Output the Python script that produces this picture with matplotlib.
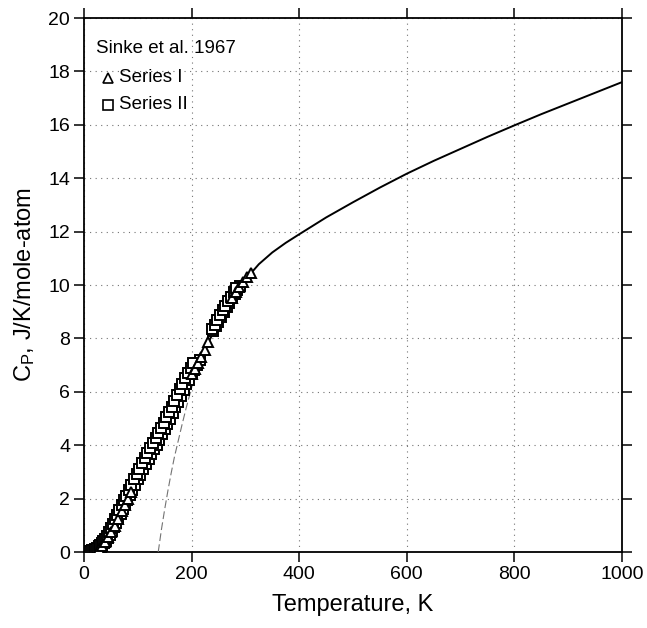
import matplotlib
matplotlib.use("Agg")
import matplotlib.pyplot as plt

# Fonts
plt.rcParams['font.family'] = ['Liberation Sans', 'DejaVu Sans']
plt.rcParams['mathtext.fontset'] = 'custom'
plt.rcParams['mathtext.rm'] = 'Liberation Sans'
plt.rcParams['mathtext.it'] = 'Liberation Sans'

# Data: Sinke et al. 1967, Series II (squares)
t_series2 = [10, 13, 16, 19, 22, 25, 28, 31, 34, 37, 40, 44, 48, 52, 56, 60, 64, 68,
             72, 76, 80, 85, 90, 95, 100, 105, 110, 115, 120, 125, 130, 135, 140, 145,
             150, 155, 160, 165, 170, 175, 180, 185, 190, 195, 200, 205, 210, 215,
             240, 245, 250, 255, 260, 265, 270, 275, 280, 285, 290,
             # second run
             12, 15, 18, 21, 24, 27, 30, 33, 36, 39, 42, 46, 50, 54, 58, 62, 66,
             70, 74, 78, 83, 88, 93, 98, 103, 108, 113, 118, 123, 128, 133, 138,
             143, 148, 153, 158, 163, 168, 173, 178, 183, 188, 193, 198, 203,
             238, 243, 248, 253, 258, 263, 268, 273, 278, 283]
cp_series2 = [0.01, 0.02, 0.03, 0.05, 0.07, 0.10, 0.14, 0.19, 0.25, 0.32, 0.40, 0.52,
              0.65, 0.79, 0.94, 1.10, 1.27, 1.44, 1.60, 1.78, 1.95, 2.15, 2.33, 2.52,
              2.72, 2.90, 3.10, 3.30, 3.50, 3.68, 3.86, 4.02, 4.21, 4.41, 4.60, 4.80,
              5.00, 5.20, 5.42, 5.63, 5.85, 6.06, 6.28, 6.46, 6.65, 6.82, 7.00, 7.20,
              8.28, 8.46, 8.63, 8.82, 9.00, 9.17, 9.34, 9.50, 9.66, 9.80, 9.95,
              # second run
              0.04, 0.06, 0.09, 0.12, 0.16, 0.21, 0.27, 0.34, 0.42, 0.50, 0.60,
              0.75, 0.90, 1.05, 1.22, 1.40, 1.58, 1.75, 1.93, 2.10, 2.32, 2.52,
              2.72, 2.92, 3.12, 3.32, 3.52, 3.72, 3.90, 4.08, 4.26, 4.45, 4.65,
              4.85, 5.05, 5.25, 5.45, 5.66, 5.88, 6.10, 6.31, 6.52, 6.72, 6.90,
              7.08, 8.35, 8.52, 8.70, 8.88, 9.06, 9.23, 9.40, 9.56, 9.72, 9.88]

# Series I (triangles)
t_series1 = [27, 33, 39, 45, 51, 57, 63, 70, 76, 82, 88,
             200, 206, 212, 218, 224, 230,
             275, 282, 289, 296, 303, 310]
cp_series1 = [0.13, 0.22, 0.37, 0.55, 0.75, 0.98, 1.22, 1.52, 1.76, 2.00, 2.25,
              6.68, 6.86, 7.08, 7.32, 7.56, 7.85,
              9.52, 9.72, 9.92, 10.12, 10.30, 10.46]

# Assessed curve (solid) and its low-T extrapolation (dashed)
t_fit = [200, 220, 240, 260, 280, 300, 325, 350, 375, 400, 450, 500, 550, 600,
         650, 700, 750, 800, 850, 900, 950, 1000]
cp_fit = [6.65, 7.4, 8.2, 8.9, 9.6, 10.2, 10.78, 11.22, 11.58, 11.9, 12.53, 13.1,
          13.65, 14.17, 14.65, 15.1, 15.55, 15.98, 16.4, 16.8, 17.2, 17.6]

t_ext = [138, 144, 150, 156, 162, 168, 175, 182, 190, 198, 206, 214]
cp_ext = [0.0, 0.85, 1.6, 2.3, 2.95, 3.55, 4.15, 4.75, 5.4, 6.0, 6.6, 7.15]

fig = plt.figure(figsize=(6.47, 6.28), dpi=100)
ax = fig.add_axes([0.1298, 0.121, 0.8316, 0.8503])

ax.plot(t_fit, cp_fit, color='black', lw=1.4, zorder=3)
ax.plot(t_ext, cp_ext, color='0.45', lw=0.8, ls=(0, (7, 3)), zorder=3)

ax.plot(t_series2, cp_series2, ls='none', marker='s', ms=6.5, mfc='white',
        mec='black', mew=1.4, zorder=4)
ax.plot(t_series1, cp_series1, ls='none', marker='^', ms=7, mfc='white',
        mec='black', mew=1.4, zorder=5)

ax.set_xlim(0, 1000)
ax.set_ylim(0, 20)
ax.set_xticks(range(0, 1001, 200))
ax.set_yticks(range(0, 21, 2))

ax.grid(True, ls=(0, (1, 4)), color='0.45', lw=0.8)
ax.tick_params(direction='out', length=7, width=1.1, top=True, right=True,
               labelsize=14, pad=3)
for s in ax.spines.values():
    s.set_linewidth(1.3)

ax.set_xlabel('Temperature, K', fontsize=17, labelpad=8)
ax.set_ylabel(r'C$_\mathrm{P}$, J/K/mole-atom', fontsize=17, labelpad=8)

# Legend block
ax.text(0.022, 0.942, 'Sinke et al. 1967', transform=ax.transAxes,
        fontsize=13.5, va='center', ha='left')
ax.plot([0.045], [0.888], transform=ax.transAxes, marker='^', ms=7, mfc='white',
        mec='black', mew=1.2, ls='none', clip_on=False)
ax.text(0.065, 0.888, 'Series I', transform=ax.transAxes, fontsize=13.5,
        va='center', ha='left')
ax.plot([0.045], [0.838], transform=ax.transAxes, marker='s', ms=6.5, mfc='white',
        mec='black', mew=1.2, ls='none', clip_on=False)
ax.text(0.065, 0.838, 'Series II', transform=ax.transAxes, fontsize=13.5,
        va='center', ha='left')

fig.savefig('out.png', dpi=100)
